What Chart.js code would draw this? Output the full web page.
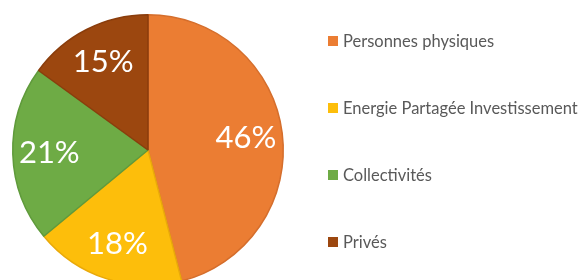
<!DOCTYPE html>
<html>

<head>
    <meta charset="UTF-8">
    <title>Répartition</title>
    <script src="https://cdn.jsdelivr.net/npm/chart.js"></script>
    <style>
        html, body { margin: 0; padding: 0; background: #fff; overflow: hidden; }
        #wrap { position: relative; width: 587px; height: 280px; overflow: hidden; }
        #wrap canvas { position: absolute; left: 0; top: 0; }
        #legend { position: absolute; left: 328px; top: 0; font-family: Lato, "Open Sans", sans-serif; font-size: 16.5px; color: #595959; }
        #legend div { position: absolute; white-space: nowrap; display: flex; align-items: center; }
        #legend span.box { display: inline-block; width: 10px; height: 10px; margin-right: 5px; }
    </style>
</head>

<body>
    <div id="wrap">
        <canvas id="pie"></canvas>
        <div id="legend"></div>
    </div>

    <script>
        // data
        var labels = ['Personnes physiques', 'Energie Partagée Investissement', 'Collectivités', 'Privés'];
        var values = [46, 18, 21, 15];
        var colors = ['#EB7D33', '#FDBE0B', '#6EAB45', '#9C470F'];
        var borders = ['#D56E2C', '#E9A90A', '#5F9A3B', '#8A3D0C'];

        // percent labels inside the slices
        var sliceLabels = {
            id: 'sliceLabels',
            afterDatasetsDraw: function (chart) {
                var ctx = chart.ctx;
                var meta = chart.getDatasetMeta(0);
                ctx.save();
                ctx.fillStyle = '#ffffff';
                ctx.font = '400 31px Lato, "Open Sans", sans-serif';
                ctx.textAlign = 'center';
                ctx.textBaseline = 'middle';
                meta.data.forEach(function (arc, i) {
                    var p = arc.getProps(['x', 'y', 'startAngle', 'endAngle', 'outerRadius'], true);
                    var mid = (p.startAngle + p.endAngle) / 2;
                    var d = p.outerRadius * 0.73;
                    ctx.fillText(values[i] + '%', p.x + Math.cos(mid) * d, p.y + Math.sin(mid) * d);
                });
                ctx.restore();
            }
        };

        var canvas = document.getElementById('pie');
        canvas.width = 587;
        canvas.height = 300;

        var myChart = new Chart(canvas.getContext('2d'), {
            type: 'pie',
            data: {
                labels: labels,
                datasets: [{
                    data: values,
                    backgroundColor: colors,
                    borderColor: borders,
                    borderWidth: 1.5
                }]
            },
            options: {
                responsive: false,
                animation: false,
                layout: { padding: { left: 12, right: 303, top: 14, bottom: 14 } },
                plugins: {
                    legend: { display: false },
                    tooltip: { enabled: false }
                }
            },
            plugins: [sliceLabels]
        });

        // legend
        var legendTops = [41, 108, 175, 242];
        var legend = document.getElementById('legend');
        labels.forEach(function (name, i) {
            var row = document.createElement('div');
            row.style.top = (legendTops[i] - 10) + 'px';
            row.style.height = '20px';
            row.innerHTML = '<span class="box" style="background:' + colors[i] + '"></span>' + name;
            legend.appendChild(row);
        });
    </script>
</body>

</html>
